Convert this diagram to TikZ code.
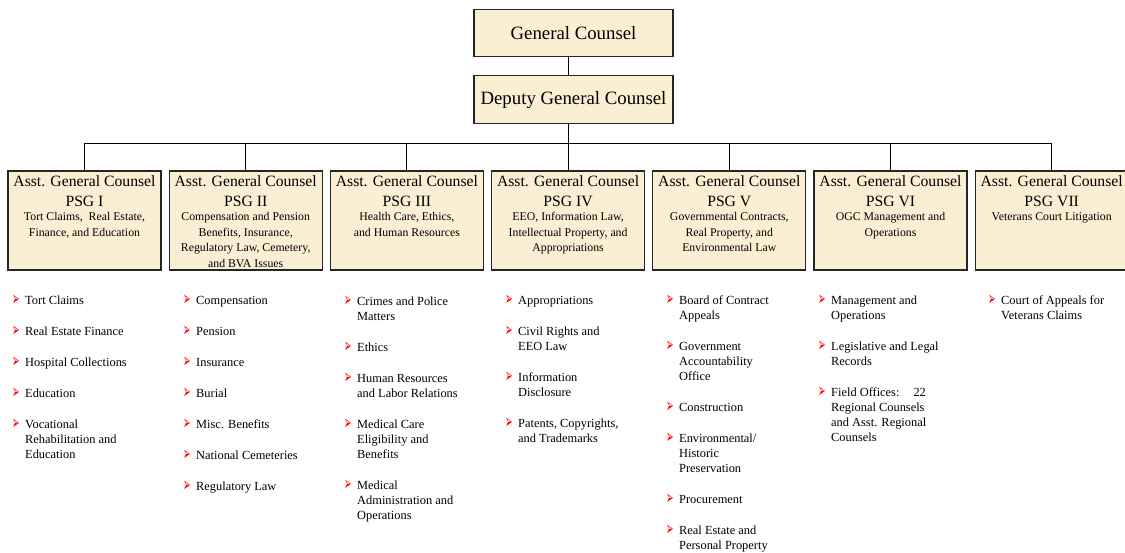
\documentclass[tikz,border=0pt]{standalone}
\usepackage{fontspec}
\setmainfont{Liberation Serif}
\newfontfamily\symfont{DejaVu Sans}
\usetikzlibrary{positioning,calc}

\definecolor{cream}{RGB}{251,239,211}

% red arrow bullet, hanging in its own column
\newcommand{\bul}{\makebox[13pt][l]{\raisebox{-1pt}{\scalebox{0.6}[1.3]{\textcolor{red}{\symfont\fontsize{15}{15}\selectfont ➢}}}}}
% text of an Asst. General Counsel box
\newcommand{\agc}[2]{\parbox[t][99pt][t]{150pt}{\centering
  \vspace*{5pt}\fontsize{15.7}{20}\selectfont Asst. General Counsel\\PSG #1\par
  \vspace{-1.5pt}\fontsize{11.8}{15.5}\selectfont #2\par}}

\begin{document}
\begin{tikzpicture}[x=1pt,y=-1pt,
    topbox/.style={draw=black!85, line width=1.2pt, fill=cream, minimum width=199pt, inner sep=0pt, font=\fontsize{18.8}{22}\selectfont},
    psgbox/.style={draw=black!85, line width=1.2pt, fill=cream, minimum width=153pt, minimum height=99pt, inner sep=0pt, anchor=north},
    duties/.style={anchor=base west, inner sep=0pt, font=\fontsize{12.4}{15}\selectfont}]
  \useasboundingbox (0,0) rectangle (1125,553);

  % General Counsel and deputy
  \node[topbox, minimum height=47pt] (gc) at (573.5,33) {General Counsel};
  \node[topbox, minimum height=48pt] (dgc) at (573.5,99.7) {Deputy General Counsel};
  \coordinate (bar) at (568,143);

  % Asst. General Counsel boxes
  \node[psgbox] (psg1) at (84.5,170.5) {\agc{I}{Tort Claims,\ \ Real Estate,\\Finance, and Education}};
  \node[psgbox] (psg2) at (245.7,170.5) {\agc{II}{Compensation and Pension\\Benefits, Insurance,\\Regulatory Law, Cemetery,\\and BVA Issues}};
  \node[psgbox] (psg3) at (406.9,170.5) {\agc{III}{Health Care, Ethics,\\and Human Resources}};
  \node[psgbox] (psg4) at (568.1,170.5) {\agc{IV}{EEO, Information Law,\\Intellectual Property, and\\Appropriations}};
  \node[psgbox] (psg5) at (729.3,170.5) {\agc{V}{Governmental Contracts,\\Real Property, and\\Environmental Law}};
  \node[psgbox] (psg6) at (890.5,170.5) {\agc{VI}{OGC Management and\\Operations}};
  \node[psgbox] (psg7) at (1051.7,170.5) {\agc{VII}{Veterans Court Litigation}};

  % connectors
  \draw[line width=0.9pt] (gc.south -| bar) -- (dgc.north -| bar);
  \draw[line width=0.9pt] (dgc.south -| bar) -- (bar);
  \foreach \i in {1,...,7}
    \draw[line width=0.9pt] (psg\i.north) |- (bar);

  % duty lists
  \node[duties] (list1) at (12,305) {\begin{tabular}[t]{@{}l@{}l@{}}
    \bul & Tort Claims\\[16pt]
    \bul & Real Estate Finance\\[16pt]
    \bul & Hospital Collections\\[16pt]
    \bul & Education\\[16pt]
    \bul & Vocational\\ & Rehabilitation and\\ & Education
  \end{tabular}};
  \node[duties] (list2) at (183,305) {\begin{tabular}[t]{@{}l@{}l@{}}
    \bul & Compensation\\[16pt]
    \bul & Pension\\[16pt]
    \bul & Insurance\\[16pt]
    \bul & Burial\\[16pt]
    \bul & Misc. Benefits\\[16pt]
    \bul & National Cemeteries\\[16pt]
    \bul & Regulatory Law
  \end{tabular}};
  \node[duties] (list3) at (344,306) {\begin{tabular}[t]{@{}l@{}l@{}}
    \bul & Crimes and Police\\ & Matters\\[16pt]
    \bul & Ethics\\[16pt]
    \bul & Human Resources\\ & and Labor Relations\\[16pt]
    \bul & Medical Care\\ & Eligibility and\\ & Benefits\\[16pt]
    \bul & Medical\\ & Administration and\\ & Operations
  \end{tabular}};
  \node[duties] (list4) at (505,305) {\begin{tabular}[t]{@{}l@{}l@{}}
    \bul & Appropriations\\[16pt]
    \bul & Civil Rights and\\ & EEO Law\\[16pt]
    \bul & Information\\ & Disclosure\\[16pt]
    \bul & Patents, Copyrights,\\ & and Trademarks
  \end{tabular}};
  \node[duties] (list5) at (666,305) {\begin{tabular}[t]{@{}l@{}l@{}}
    \bul & Board of Contract\\ & Appeals\\[16pt]
    \bul & Government\\ & Accountability\\ & Office\\[16pt]
    \bul & Construction\\[16pt]
    \bul & Environmental/\\ & Historic\\ & Preservation\\[16pt]
    \bul & Procurement\\[16pt]
    \bul & Real Estate and\\ & Personal Property
  \end{tabular}};
  \node[duties] (list6) at (818,305) {\begin{tabular}[t]{@{}l@{}l@{}}
    \bul & Management and\\ & Operations\\[16pt]
    \bul & Legislative and Legal\\ & Records\\[16pt]
    \bul & Field Offices:\hspace{14pt}22\\ & Regional Counsels\\ & and Asst. Regional\\ & Counsels
  \end{tabular}};
  \node[duties] (list7) at (988,305) {\begin{tabular}[t]{@{}l@{}l@{}}
    \bul & Court of Appeals for\\ & Veterans Claims
  \end{tabular}};
\end{tikzpicture}
\end{document}
